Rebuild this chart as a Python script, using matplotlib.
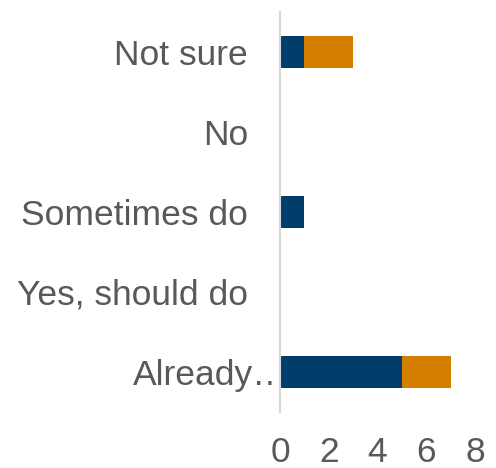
import matplotlib.pyplot as plt
from matplotlib.transforms import ScaledTranslation

# 数据
categories = ["Not sure", "No", "Sometimes do", "Yes, should do", "Already\u2026"]
series_a = [1, 0, 1, 0, 5]   # 深蓝
series_b = [2, 0, 0, 0, 2]   # 橙色
xticks = [0, 2, 4, 6, 8]

plt.rcParams['font.family'] = ['Liberation Sans', 'DejaVu Sans']

fig = plt.figure(figsize=(4.96, 4.68), dpi=100)
ax = fig.add_axes([0.5645, 0.1197, 0.3932, 0.8547])

y = list(range(len(categories)))[::-1]
ax.barh(y, series_a, height=0.4, color='#003D6B', zorder=2)
ax.barh(y, series_b, left=series_a, height=0.4, color='#D47E00', zorder=2)

ax.set_xlim(0, 8)
ax.set_ylim(-0.5, 4.5)
ax.set_xticks(xticks)
ax.set_yticks(y)
ax.set_yticklabels(categories)

for s in ['top', 'right', 'bottom']:
    ax.spines[s].set_visible(False)
ax.spines['left'].set_color('#d9d9d9')
ax.spines['left'].set_linewidth(1.5)

ax.tick_params(axis='both', length=0, labelsize=25.5, colors='#595959')
ax.tick_params(axis='y', pad=23)
ax.tick_params(axis='x', pad=17)

# 最后一个标签溢出到坐标轴右侧，被柱子挡住
ax.yaxis.set_zorder(1)
lab = ax.get_yticklabels()[-1]
lab.set_transform(lab.get_transform() + ScaledTranslation(40 / 100, 0, fig.dpi_scale_trans))

fig.savefig('out.png', dpi=100)
